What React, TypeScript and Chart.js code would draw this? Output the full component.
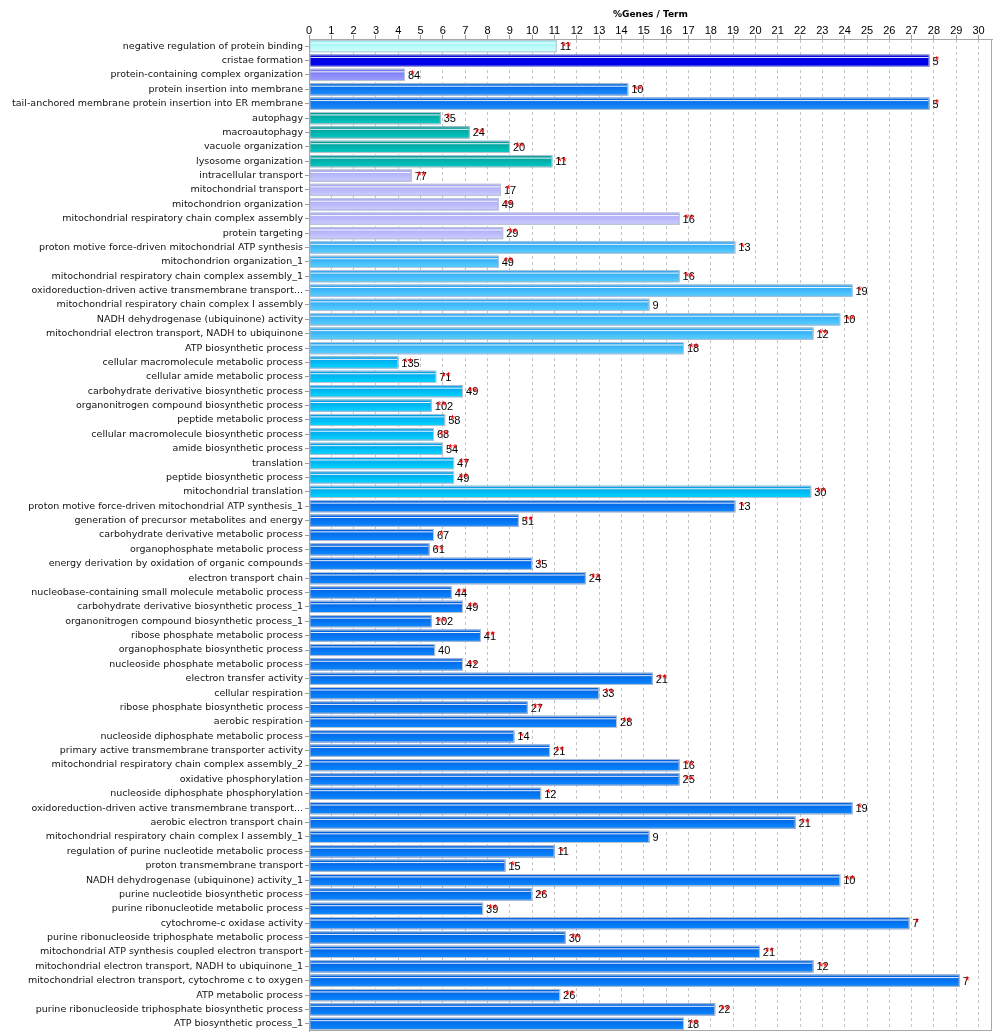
import React, { useEffect, useRef } from "react";
import { Chart, registerables } from "chart.js";

Chart.register(...registerables);

const categories: string[] = [
  "negative regulation of protein binding",
  "cristae formation",
  "protein-containing complex organization",
  "protein insertion into membrane",
  "tail-anchored membrane protein insertion into ER membrane",
  "autophagy",
  "macroautophagy",
  "vacuole organization",
  "lysosome organization",
  "intracellular transport",
  "mitochondrial transport",
  "mitochondrion organization",
  "mitochondrial respiratory chain complex assembly",
  "protein targeting",
  "proton motive force-driven mitochondrial ATP synthesis",
  "mitochondrion organization_1",
  "mitochondrial respiratory chain complex assembly_1",
  "oxidoreduction-driven active transmembrane transport...",
  "mitochondrial respiratory chain complex I assembly",
  "NADH dehydrogenase (ubiquinone) activity",
  "mitochondrial electron transport, NADH to ubiquinone",
  "ATP biosynthetic process",
  "cellular macromolecule metabolic process",
  "cellular amide metabolic process",
  "carbohydrate derivative biosynthetic process",
  "organonitrogen compound biosynthetic process",
  "peptide metabolic process",
  "cellular macromolecule biosynthetic process",
  "amide biosynthetic process",
  "translation",
  "peptide biosynthetic process",
  "mitochondrial translation",
  "proton motive force-driven mitochondrial ATP synthesis_1",
  "generation of precursor metabolites and energy",
  "carbohydrate derivative metabolic process",
  "organophosphate metabolic process",
  "energy derivation by oxidation of organic compounds",
  "electron transport chain",
  "nucleobase-containing small molecule metabolic process",
  "carbohydrate derivative biosynthetic process_1",
  "organonitrogen compound biosynthetic process_1",
  "ribose phosphate metabolic process",
  "organophosphate biosynthetic process",
  "nucleoside phosphate metabolic process",
  "electron transfer activity",
  "cellular respiration",
  "ribose phosphate biosynthetic process",
  "aerobic respiration",
  "nucleoside diphosphate metabolic process",
  "primary active transmembrane transporter activity",
  "mitochondrial respiratory chain complex assembly_2",
  "oxidative phosphorylation",
  "nucleoside diphosphate phosphorylation",
  "oxidoreduction-driven active transmembrane transport...",
  "aerobic electron transport chain",
  "mitochondrial respiratory chain complex I assembly_1",
  "regulation of purine nucleotide metabolic process",
  "proton transmembrane transport",
  "NADH dehydrogenase (ubiquinone) activity_1",
  "purine nucleotide biosynthetic process",
  "purine ribonucleotide metabolic process",
  "cytochrome-c oxidase activity",
  "purine ribonucleoside triphosphate metabolic process",
  "mitochondrial ATP synthesis coupled electron transport",
  "mitochondrial electron transport, NADH to ubiquinone_1",
  "mitochondrial electron transport, cytochrome c to oxygen",
  "ATP metabolic process",
  "purine ribonucleoside triphosphate biosynthetic process",
  "ATP biosynthetic process_1",
];

const percentValues: number[] = [
  11.1, 27.8, 4.3, 14.3, 27.8, 5.9, 7.2, 9.0, 10.9, 4.6,
  8.6, 8.5, 16.6, 8.7, 19.1, 8.5, 16.6, 24.35, 15.25, 23.8,
  22.6, 16.8, 4.0, 5.7, 6.9, 5.5, 6.1, 5.6, 6.0, 6.5,
  6.5, 22.5, 19.1, 9.4, 5.6, 5.4, 10.0, 12.4, 6.4, 6.9,
  5.5, 7.7, 5.65, 6.9, 15.4, 13.0, 9.8, 13.8, 9.2, 10.8,
  16.6, 16.6, 10.4, 24.35, 21.8, 15.25, 11.0, 8.8, 23.8, 10.0,
  7.8, 26.9, 11.5, 20.2, 22.6, 29.15, 11.25, 18.2, 16.8,
];

const geneCounts: number[] = [
  11, 5, 84, 10, 5, 35, 24, 20, 11, 77,
  17, 49, 16, 29, 13, 49, 16, 19, 9, 10,
  12, 18, 135, 71, 49, 102, 58, 68, 54, 47,
  49, 30, 13, 51, 67, 61, 35, 24, 44, 49,
  102, 41, 40, 42, 21, 33, 27, 28, 14, 21,
  16, 25, 12, 19, 21, 9, 11, 15, 10, 26,
  39, 7, 30, 21, 12, 7, 26, 22, 18,
];

const starCounts: number[] = [
  2, 1, 1, 2, 1, 1, 2, 2, 2, 2,
  1, 2, 2, 2, 1, 2, 2, 1, 0, 2,
  2, 2, 2, 2, 2, 2, 1, 2, 2, 2,
  2, 2, 1, 2, 1, 2, 1, 2, 2, 2,
  2, 2, 0, 2, 2, 2, 2, 2, 1, 2,
  2, 2, 1, 1, 2, 0, 1, 1, 2, 2,
  2, 1, 2, 2, 2, 1, 2, 2, 2,
];

const colorGroups: number[] = [
  0, 1, 2, 3, 3, 4, 4, 4, 4, 5,
  5, 5, 5, 5, 6, 6, 6, 6, 6, 6,
  6, 6, 7, 7, 7, 7, 7, 7, 7, 7,
  7, 7, 8, 8, 8, 8, 8, 8, 8, 8,
  8, 8, 8, 8, 8, 8, 8, 8, 8, 8,
  8, 8, 8, 8, 8, 8, 8, 8, 8, 8,
  8, 8, 8, 8, 8, 8, 8, 8, 8,
];

// [top (darker), bottom (lighter)]
const groupColors: [string, string][] = [
  ["#98f4f4", "#cfffff"],
  ["#0000d8", "#0000f4"],
  ["#7474f0", "#9c9cff"],
  ["#0066e0", "#1a8cff"],
  ["#009a96", "#00c8c0"],
  ["#a8a8f6", "#cacaff"],
  ["#2ca4f2", "#56ceff"],
  ["#009ee8", "#00d4ff"],
  ["#0060e0", "#0a86ff"],
];

const xTitle = "%Genes / Term";
const xMin = 0;
const xMax = 30.6;

const barStylePlugin = {
  id: "barStyle",
  afterDatasetsDraw(chart: any) {
    const ctx: CanvasRenderingContext2D = chart.ctx;
    const meta = chart.getDatasetMeta(0);
    meta.data.forEach((bar: any, i: number) => {
      const p = bar.getProps(["x", "y", "base", "height"], true);
      const left = Math.min(p.base, p.x);
      const right = Math.max(p.base, p.x);
      const top = p.y - p.height / 2;
      const bottom = p.y + p.height / 2;
      const [c1, c2] = groupColors[colorGroups[i]];
      ctx.save();
      const g = ctx.createLinearGradient(0, top + 1, 0, bottom - 1);
      g.addColorStop(0, c1);
      g.addColorStop(1, c2);
      ctx.fillStyle = g;
      ctx.fillRect(left + 1, top + 1, right - left - 2, bottom - top - 2);
      ctx.fillStyle = "rgba(255,255,255,0.9)";
      ctx.fillRect(left + 1, top + 2.5, right - left - 2, 1);
      ctx.strokeStyle = "#bcc6d2";
      ctx.lineWidth = 1;
      ctx.strokeRect(left + 0.5, top + 0.5, right - left - 1, bottom - top - 1);
      ctx.restore();

      // value label and significance stars
      const lx = right + 3;
      ctx.save();
      ctx.font = "11px 'Liberation Sans', Arial, sans-serif";
      ctx.textBaseline = "middle";
      ctx.textAlign = "left";
      ctx.fillStyle = "#000";
      ctx.fillText(String(geneCounts[i]), lx, p.y + 1);
      if (starCounts[i] > 0) {
        ctx.fillStyle = "#ff0000";
        ctx.font = "12px 'Liberation Sans', Arial, sans-serif";
        ctx.fillText("*".repeat(starCounts[i]), lx + 2, p.y + 1);
      }
      ctx.restore();
    });
  },
  afterDraw(chart: any) {
    const ctx: CanvasRenderingContext2D = chart.ctx;
    const a = chart.chartArea;
    ctx.save();
    ctx.strokeStyle = "#a8a8a8";
    ctx.lineWidth = 1;
    ctx.strokeRect(Math.round(a.left) + 0.5, Math.round(a.top) + 0.5, Math.round(a.right - a.left) - 1, Math.round(a.bottom - a.top) - 1);
    ctx.fillStyle = "#000";
    ctx.font = "bold 9px 'DejaVu Sans', sans-serif";
    ctx.textAlign = "center";
    ctx.textBaseline = "middle";
    ctx.fillText(xTitle, (a.left + a.right) / 2, 15);
    ctx.restore();
  },
};

export default function App() {
  const ref = useRef<HTMLCanvasElement | null>(null);
  useEffect(() => {
    if (!ref.current) return;
    const chart = new Chart(ref.current, {
      type: "bar",
      data: {
        labels: categories,
        datasets: [
          {
            data: percentValues,
            backgroundColor: colorGroups.map((g) => groupColors[g][0]),
            borderWidth: 0,
            barPercentage: 0.85,
            categoryPercentage: 1,
          },
        ],
      },
      options: {
        indexAxis: "y",
        responsive: false,
        animation: false,
        devicePixelRatio: 1,
        layout: { padding: { top: 23, right: 8, bottom: 4, left: 0 } },
        plugins: {
          legend: { display: false },
          tooltip: { enabled: false },
          title: { display: false },
        },
        scales: {
          x: {
            position: "top",
            min: xMin,
            max: xMax,
            afterFit: (s: any) => {
              s.height = 16;
              s.paddingLeft = 0;
              s.paddingRight = 0;
            },
            ticks: {
              stepSize: 1,
              includeBounds: false,
              autoSkip: false,
              maxRotation: 0,
              padding: -1,
              color: "#000",
              font: { family: "'Liberation Sans', Arial, sans-serif", size: 11, lineHeight: 1 },
            },
            grid: {
              color: "#c4c4c4",
              tickLength: 4,
              tickColor: "#9a9a9a",
              drawTicks: true,
            },
            border: { display: true, color: "#a8a8a8", dash: [3, 3] },
          },
          y: {
            afterFit: (s: any) => {
              s.width = 309;
              s.paddingTop = 0;
              s.paddingBottom = 0;
            },
            ticks: {
              autoSkip: false,
              padding: 2,
              color: "#111",
              font: { family: "'DejaVu Sans', sans-serif", size: 9.5 },
            },
            grid: {
              drawOnChartArea: false,
              drawTicks: true,
              offset: false,
              tickLength: 4,
              color: "#9a9a9a",
            },
            border: { display: true, color: "#a8a8a8" },
          },
        },
      },
      plugins: [barStylePlugin],
    });
    return () => chart.destroy();
  }, []);
  return (
    <div style={{ position: "absolute", left: 0, top: 0, width: 1000, height: 1035, background: "#fff" }}>
      <canvas ref={ref} width={1000} height={1035} style={{ display: "block" }} />
    </div>
  );
}
